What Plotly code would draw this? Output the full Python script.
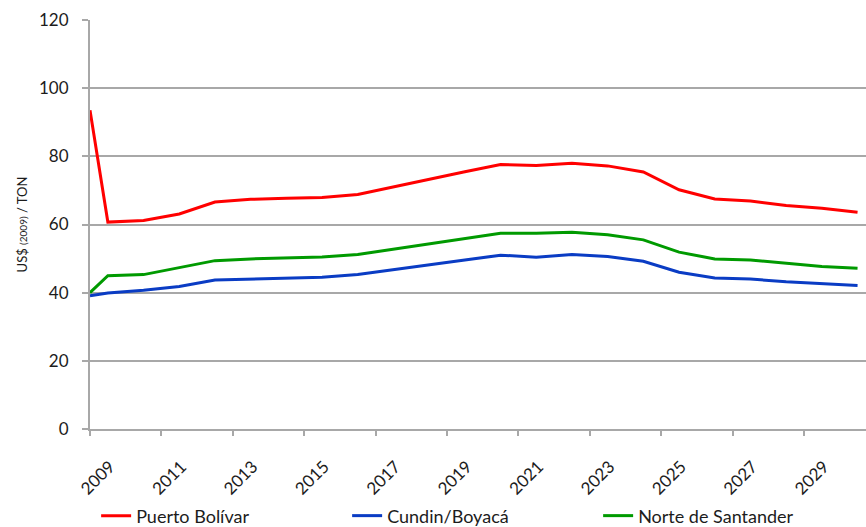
import plotly.graph_objects as go

# Annual values (US$ of 2009 per ton), plotted at mid-year
years = list(range(2009, 2031))
puerto_bolivar = [60.7, 61.2, 63.1, 66.6, 67.4, 67.7, 67.9, 68.8, 71.1, 73.2, 75.5, 77.6,
                  77.3, 78.0, 77.2, 75.4, 70.2, 67.5, 66.9, 65.6, 64.8, 63.6]
cundin_boyaca = [39.9, 40.7, 41.8, 43.7, 44.0, 44.2, 44.5, 45.3, 46.8, 48.1, 49.6, 51.0,
                 50.4, 51.2, 50.6, 49.2, 46.0, 44.3, 44.0, 43.2, 42.7, 42.1]
norte_santander = [45.0, 45.3, 47.4, 49.4, 49.9, 50.2, 50.5, 51.2, 52.7, 54.3, 55.9, 57.4,
                   57.4, 57.7, 57.0, 55.5, 51.9, 49.9, 49.6, 48.6, 47.7, 47.2]
# Opening values at the start of 2009
opening = {"Puerto Bolívar": 93.5, "Cundin/Boyacá": 39.1, "Norte de Santander": 40.0}

series = [
    ("Puerto Bolívar", puerto_bolivar, "#ff0000"),
    ("Cundin/Boyacá", cundin_boyaca, "#0a3cc4"),
    ("Norte de Santander", norte_santander, "#009a00"),
]

x_pos = [years[0]] + [y + 0.5 for y in years]
label_years = years[::2]

font_family = "Lato, 'Open Sans', sans-serif"
text_color = "#1c1c1c"
grid_color = "#a8a8a8"

fig = go.Figure()
for name, vals, color in series:
    fig.add_trace(go.Scatter(
        x=x_pos, y=[opening[name]] + vals, mode="lines", name=name,
        line=dict(color=color, width=3),
    ))

fig.update_layout(
    width=866, height=527,
    margin=dict(l=90, r=0, t=20, b=98, autoexpand=False),
    plot_bgcolor="white", paper_bgcolor="white",
    font=dict(family=font_family, color=text_color, size=16),
    showlegend=True,
    legend=dict(
        orientation="h", xref="container", yref="container",
        x=0.111, y=0.021, xanchor="left", yanchor="middle",
        font=dict(size=18, color=text_color),
        bgcolor="rgba(0,0,0,0)",
        entrywidth=206, entrywidthmode="pixels",
        tracegroupgap=0,
    ),
)

fig.update_xaxes(
    range=[years[0], years[0] + 776 / 35.7],
    tickmode="array", tickvals=label_years, ticktext=[str(y) for y in label_years],
    tickangle=-45, ticks="outside", ticklen=5, tickwidth=1.5, tickcolor=grid_color,
    ticklabelshift=20, ticklabelstandoff=14,
    showline=True, linecolor=grid_color, linewidth=2,
    showgrid=False, zeroline=False, automargin=False,
    tickfont=dict(size=17, color=text_color),
)
fig.update_yaxes(
    range=[0, 120], tick0=0, dtick=20,
    ticks="outside", ticklen=6, tickwidth=1.5, tickcolor=grid_color,
    ticklabelstandoff=10, automargin=False,
    showline=True, linecolor=grid_color, linewidth=2,
    showgrid=True, gridcolor=grid_color, gridwidth=2,
    zeroline=False,
    tickfont=dict(size=17, color=text_color),
    title=dict(
        text='US$ <span style="font-size:10px">(2009)</span> / TON',
        font=dict(size=13, color=text_color), standoff=8,
    ),
)

fig.write_html("out.html")
